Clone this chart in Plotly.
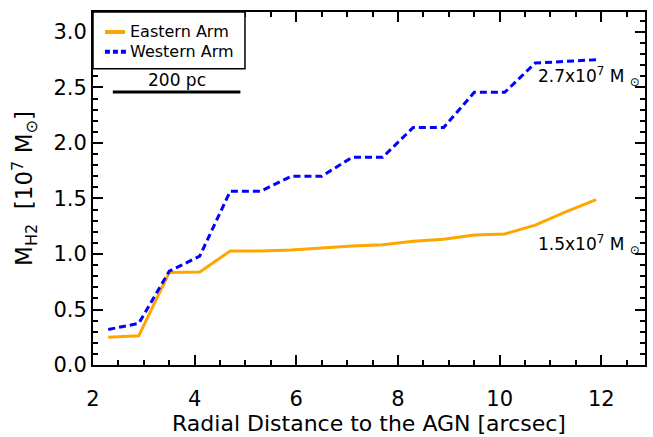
import plotly.graph_objects as go

# Radial bins (arcsec) and cumulative molecular gas mass (10^7 Msun)
radius = [2.3, 2.9, 3.5, 4.1, 4.7, 5.3, 5.9, 6.5, 7.1, 7.7, 8.3, 8.9, 9.5, 10.1, 10.7, 11.3, 11.9]
eastern_arm = [0.25, 0.263, 0.833, 0.838, 1.027, 1.027, 1.036, 1.057, 1.072, 1.084,
               1.114, 1.132, 1.171, 1.18, 1.26, 1.38, 1.49]
western_arm = [0.32, 0.375, 0.845, 0.98, 1.566, 1.566, 1.70, 1.70, 1.872, 1.872,
               2.14, 2.14, 2.456, 2.456, 2.72, 2.735, 2.75]

x_ticks = [2, 4, 6, 8, 10, 12]
y_ticks = [0.0, 0.5, 1.0, 1.5, 2.0, 2.5, 3.0]

X_RANGE = [2, 12.86]
Y_RANGE = [0, 3.18]

FONT = "DejaVu Sans"
ORANGE = "#FFA500"
BLUE = "#0000FF"

fig = go.Figure()
fig.add_trace(go.Scatter(x=radius, y=eastern_arm, mode="lines", name="Eastern Arm",
                         line=dict(color=ORANGE, width=3), showlegend=False))
fig.add_trace(go.Scatter(x=radius, y=western_arm, mode="lines", name="Western Arm",
                         line=dict(color=BLUE, width=3, dash="7px,4px"), showlegend=False))

axis_common = dict(
    showline=True, linecolor="black", linewidth=2,
    mirror="ticks", ticks="inside", ticklen=10, tickwidth=2, tickcolor="black",
    showgrid=False, zeroline=False,
    tickfont=dict(family=FONT, size=21, color="black"),
)

fig.update_xaxes(range=X_RANGE, tickvals=x_ticks, ticktext=[str(v) for v in x_ticks],
                 minor=dict(dtick=0.5, ticks="inside", ticklen=5, tickwidth=1.5, tickcolor="black"),
                 title_text="Radial Distance to the AGN [arcsec]", title_standoff=4,
                 title_font=dict(family=FONT, size=22, color="black"),
                 ticklabelstandoff=14, **axis_common)
fig.update_yaxes(range=Y_RANGE, tickvals=y_ticks, ticktext=[f"{v:.1f}" for v in y_ticks],
                 minor=dict(dtick=0.1, ticks="inside", ticklen=5, tickwidth=1.5, tickcolor="black"),
                 title_text="M<sub>H2</sub>  [10<sup>7</sup> M<sub>⊙</sub>]", title_standoff=14,
                 title_font=dict(family=FONT, size=23, color="black"),
                 ticklabelstandoff=0, **axis_common)

# Legend box with line samples
shapes = [
    dict(type="rect", xref="x", yref="y", x0=2.0, x1=4.99, y0=2.668, y1=Y_RANGE[1],
         line=dict(color="black", width=1.5), fillcolor="white", layer="above"),
    dict(type="line", xref="x", yref="y", x0=2.235, x1=2.63, y0=3.0, y1=3.0,
         line=dict(color=ORANGE, width=4)),
    dict(type="line", xref="x", yref="y", x0=2.235, x1=2.66, y0=2.821, y1=2.821,
         line=dict(color=BLUE, width=4, dash="5px,3px")),
    # 200 pc scale bar
    dict(type="line", xref="x", yref="y", x0=2.39, x1=4.90, y0=2.46, y1=2.46,
         line=dict(color="black", width=3)),
]

annotations = [
    dict(text="Eastern Arm", x=2.686, y=3.0, xref="x", yref="y", xanchor="left", yanchor="middle",
         showarrow=False, font=dict(family=FONT, size=16, color="black")),
    dict(text="Western Arm", x=2.686, y=2.821, xref="x", yref="y", xanchor="left", yanchor="middle",
         showarrow=False, font=dict(family=FONT, size=16, color="black")),
    dict(text="200 pc", x=3.65, y=2.57, xref="x", yref="y", xanchor="center", yanchor="middle",
         showarrow=False, font=dict(family=FONT, size=17, color="black")),
    dict(text="2.7x10<sup>7</sup> M <sub>⊙</sub>", x=10.71, y=2.60, xref="x", yref="y",
         xanchor="left", yanchor="middle", showarrow=False,
         font=dict(family=FONT, size=17, color="black")),
    dict(text="1.5x10<sup>7</sup> M <sub>⊙</sub>", x=10.71, y=1.09, xref="x", yref="y",
         xanchor="left", yanchor="middle", showarrow=False,
         font=dict(family=FONT, size=17, color="black")),
]

fig.update_layout(
    width=653, height=437,
    margin=dict(l=93, r=6, t=12, b=71),
    plot_bgcolor="white", paper_bgcolor="white",
    shapes=shapes, annotations=annotations,
    showlegend=False,
)

fig.write_html("out.html")
